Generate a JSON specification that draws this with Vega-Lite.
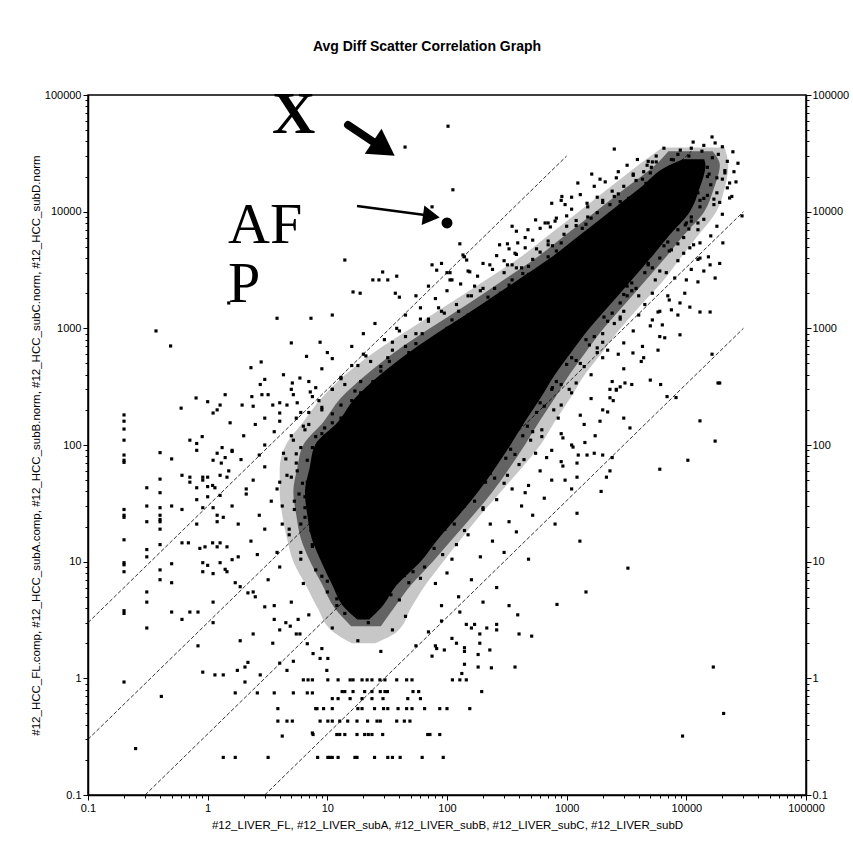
{
"$schema":"https://vega.github.io/schema/vega-lite/v6.json",
"width":718,"height":700,"autosize":"none",
"padding":{"left":88,"top":95,"right":47,"bottom":61},
"background":"white",
"title":{"text":"Avg Diff Scatter Correlation Graph","font":"Liberation Sans","fontSize":14,"fontWeight":"bold","color":"black","anchor":"middle","offset":31,"dx":-20},
"config":{"view":{"stroke":"black","strokeWidth":1.5},
"axis":{"labelFont":"Liberation Sans","labelFontSize":11,"labelColor":"#000000","titleFont":"Liberation Sans","titleFontSize":11.5,"titleFontWeight":"normal","titleColor":"#000000","tickColor":"#000000","domainColor":"#000000","domainWidth":1.5,"grid":false,"labelFlush":false,"labelOverlap":false,"labelBound":false,"labelPadding":2}},
"datasets":{
"lines":[{"g":"a","x":0.1,"y":3},{"g":"a","x":1000,"y":30000},{"g":"b","x":0.1,"y":0.3},{"g":"b","x":11000,"y":33000},{"g":"c","x":0.3,"y":0.1},{"g":"c","x":30000,"y":10000},{"g":"d","x":3,"y":0.1},{"g":"d","x":30000,"y":1000}],
"outer":[{"y":35500,"lo":6310,"hi":20900},{"y":25100,"lo":3980,"hi":22400},{"y":15850,"lo":2240,"hi":20900},{"y":10000,"lo":1260,"hi":17800},{"y":6310,"lo":708,"hi":12600},{"y":3980,"lo":398,"hi":8910},{"y":2510,"lo":200,"hi":6310},{"y":1585,"lo":100,"hi":4170},{"y":1000,"lo":50,"hi":2820},{"y":631,"lo":25,"hi":2000},{"y":398,"lo":14,"hi":1410},{"y":251,"lo":8.9,"hi":1070},{"y":158,"lo":6.3,"hi":794},{"y":100,"lo":4.5,"hi":603},{"y":63,"lo":4,"hi":417},{"y":39.8,"lo":4,"hi":282},{"y":25.1,"lo":4.2,"hi":190},{"y":15.8,"lo":4.6,"hi":132},{"y":10,"lo":5.2,"hi":93},{"y":6.3,"lo":6.6,"hi":66},{"y":4,"lo":8.3,"hi":50},{"y":2.5,"lo":11.2,"hi":38},{"y":2,"lo":16,"hi":25}],
"inner":[{"y":33000,"lo":7080,"hi":16600},{"y":25100,"lo":5500,"hi":19050},{"y":15850,"lo":3090,"hi":17000},{"y":10000,"lo":1740,"hi":14100},{"y":6310,"lo":977,"hi":9550},{"y":3980,"lo":550,"hi":6610},{"y":2510,"lo":282,"hi":4470},{"y":1585,"lo":145,"hi":3020},{"y":1000,"lo":72,"hi":2040},{"y":631,"lo":37,"hi":1450},{"y":398,"lo":21,"hi":1050},{"y":251,"lo":12.9,"hi":794},{"y":158,"lo":9.3,"hi":589},{"y":100,"lo":6.3,"hi":447},{"y":63,"lo":5.6,"hi":331},{"y":39.8,"lo":5.2,"hi":240},{"y":25.1,"lo":5.5,"hi":166},{"y":15.8,"lo":6,"hi":112},{"y":10,"lo":7.2,"hi":76},{"y":6.3,"lo":9.1,"hi":50},{"y":4,"lo":11.5,"hi":36},{"y":2.8,"lo":15.8,"hi":28}],
"core":[{"y":28200,"lo":9330,"hi":14100},{"y":25100,"lo":7240,"hi":14450},{"y":15850,"lo":4070,"hi":12900},{"y":10000,"lo":2290,"hi":10700},{"y":6310,"lo":1290,"hi":7240},{"y":3980,"lo":724,"hi":5010},{"y":2510,"lo":372,"hi":3390},{"y":1585,"lo":191,"hi":2290},{"y":1000,"lo":95.5,"hi":1550},{"y":631,"lo":49,"hi":1100},{"y":398,"lo":27.5,"hi":794},{"y":251,"lo":17,"hi":603},{"y":158,"lo":12.3,"hi":447},{"y":100,"lo":7.9,"hi":339},{"y":63,"lo":7.1,"hi":251},{"y":39.8,"lo":6.5,"hi":182},{"y":25.1,"lo":6.8,"hi":126},{"y":15.8,"lo":7.4,"hi":85},{"y":10,"lo":8.9,"hi":60},{"y":6.3,"lo":11,"hi":38},{"y":4,"lo":14,"hi":28},{"y":3.2,"lo":17.8,"hi":22.4}],
"notes":[{"t":"X","x":3.45,"y":47200},{"t":"AF","x":1.48,"y":5380},{"t":"P","x":1.48,"y":1680}],
"bigarrow":[{"x":14.9,"y":55300,"x2":25,"y2":38800}],
"bighead":[{"x":29.7,"y":34800}],
"smallarrow":[{"x":17.7,"y":11200,"x2":65.5,"y2":9360}],
"smallhead":[{"x":74,"y":9100}],
"afp":[{"x":100,"y":8000}],
"pts":[
{"x":102,"y":54000},{"x":112,"y":15400},{"x":2500,"y":34400},{"x":1620,"y":21000},{"x":1240,"y":17600},{"x":912,"y":13500},{"x":1100,"y":13300},{"x":750,"y":11800},{"x":970,"y":11500},{"x":1480,"y":11800},{"x":1800,"y":13300},{"x":820,"y":8800},{"x":700,"y":8000},{"x":350,"y":7500},{"x":275,"y":5200},{"x":390,"y":5400},{"x":128,"y":5300},{"x":140,"y":4100},{"x":106,"y":3000},{"x":155,"y":3050},{"x":228,"y":3500},{"x":320,"y":3500},{"x":370,"y":4400},{"x":475,"y":7000},{"x":520,"y":5700},{"x":660,"y":8000},{"x":730,"y":7400},{"x":5200,"y":26700},{"x":4700,"y":25000},{"x":7800,"y":27800},{"x":8900,"y":33700},{"x":11400,"y":39500},
{"x":16400,"y":43700},{"x":17400,"y":38800},{"x":24500,"y":32600},{"x":23000,"y":17600},{"x":23000,"y":13100},{"x":29200,"y":9200},{"x":20200,"y":5400},{"x":19000,"y":3600},{"x":15800,"y":3500},{"x":17400,"y":2700},{"x":12500,"y":2500},{"x":15300,"y":4100},{"x":13000,"y":4000},{"x":10700,"y":4900},{"x":9700,"y":2000},{"x":8850,"y":1650},{"x":7200,"y":1750},{"x":7500,"y":1440},{"x":10700,"y":1520},{"x":13000,"y":1380},{"x":15800,"y":1380},{"x":5800,"y":1380},{"x":5200,"y":1180},{"x":6300,"y":1070},{"x":8850,"y":880},{"x":6600,"y":830},{"x":5800,"y":650},{"x":4400,"y":560},{"x":5000,"y":360},{"x":6100,"y":330},{"x":3070,"y":340},{"x":2600,"y":295},{"x":2450,"y":240},{"x":6900,"y":260},{"x":8200,"y":255},{"x":19000,"y":340},{"x":16400,"y":600},{"x":3580,"y":615},{"x":5600,"y":26700},{"x":5100,"y":24000},{"x":4400,"y":22000},
{"x":18400,"y":340},{"x":13000,"y":161},{"x":17400,"y":108},{"x":10300,"y":74},{"x":6000,"y":62},{"x":2300,"y":300},{"x":2800,"y":315},{"x":2300,"y":254},{"x":2200,"y":192},{"x":1730,"y":120},{"x":1420,"y":105},{"x":1130,"y":96},{"x":930,"y":115},{"x":930,"y":66},{"x":970,"y":50},{"x":1220,"y":53},{"x":1220,"y":70},{"x":1480,"y":82},{"x":2000,"y":82},{"x":2400,"y":78},{"x":2300,"y":60},{"x":2150,"y":53},{"x":1940,"y":40},{"x":3380,"y":140},{"x":1220,"y":26},{"x":1290,"y":15},{"x":3250,"y":8.8},{"x":1450,"y":5.5},{"x":16800,"y":1.25},{"x":20500,"y":0.5},{"x":9300,"y":0.32},
{"x":44.6,"y":35800},{"x":75,"y":11000},{"x":14,"y":3850},{"x":29,"y":3040},{"x":27,"y":2600},{"x":24,"y":2600},{"x":32,"y":2600},{"x":38,"y":2800},{"x":16.4,"y":2050},{"x":18.8,"y":2000},{"x":37,"y":2000},{"x":40,"y":1850},{"x":136,"y":4250},{"x":146,"y":3850},{"x":75,"y":3500},{"x":90,"y":3600},{"x":82,"y":3150},{"x":100,"y":3000},{"x":106,"y":2600},
{"x":0.6,"y":207},{"x":0.61,"y":55},{"x":0.61,"y":28},{"x":0.61,"y":14.5},{"x":0.71,"y":110},{"x":0.81,"y":103},{"x":0.81,"y":90},{"x":0.71,"y":53},{"x":0.71,"y":48},{"x":0.69,"y":14.5},{"x":0.8,"y":253},{"x":0.9,"y":118},{"x":0.81,"y":43},{"x":0.81,"y":34},{"x":0.81,"y":21},{"x":0.91,"y":53},{"x":0.91,"y":50},{"x":1.0,"y":235},{"x":1.0,"y":53},{"x":1.0,"y":44},{"x":1.11,"y":188},{"x":1.2,"y":200},{"x":1.27,"y":220},{"x":1.4,"y":270},{"x":1.54,"y":155},{"x":1.11,"y":74},{"x":1.2,"y":85},{"x":1.32,"y":95},{"x":1.4,"y":78},{"x":1.6,"y":88},{"x":1.27,"y":55},{"x":1.45,"y":53},{"x":1.15,"y":43},{"x":1.0,"y":36},{"x":0.91,"y":29},{"x":1.11,"y":29},{"x":1.27,"y":37},{"x":1.2,"y":25},{"x":1.35,"y":24},{"x":0.86,"y":13},{"x":0.95,"y":13.4},{"x":1.1,"y":14.5},{"x":1.2,"y":13.4},{"x":1.27,"y":14.5},{"x":1.45,"y":13.4},{"x":0.91,"y":8.2},{"x":1.0,"y":9.3},{"x":1.4,"y":8.6},{"x":1.6,"y":10.4},{"x":1.94,"y":220},{"x":2.34,"y":260},{"x":2.4,"y":215},{"x":2.84,"y":270},{"x":3.2,"y":270},{"x":2.75,"y":330},{"x":3.5,"y":220},{"x":4.0,"y":188},{"x":4.6,"y":220},{"x":5.1,"y":340},{"x":5.2,"y":270},{"x":5.6,"y":230},{"x":7.2,"y":285},
{"x":0.2,"y":181},{"x":0.2,"y":160},{"x":0.2,"y":137},{"x":0.2,"y":110},{"x":0.2,"y":82},{"x":0.2,"y":74},{"x":0.2,"y":71},{"x":0.2,"y":28},{"x":0.2,"y":25},{"x":0.2,"y":24},{"x":0.2,"y":15.4},{"x":0.2,"y":9.8},{"x":0.2,"y":9.4},{"x":0.2,"y":8.2},{"x":0.2,"y":3.8},{"x":0.2,"y":3.6},{"x":0.2,"y":0.93},
{"x":0.31,"y":43},{"x":0.31,"y":30},{"x":0.31,"y":22},{"x":0.31,"y":12.7},{"x":0.31,"y":11},{"x":0.31,"y":5.5},{"x":0.31,"y":4.5},{"x":0.31,"y":2.7},
{"x":0.4,"y":86},{"x":0.4,"y":51},{"x":0.4,"y":39},{"x":0.4,"y":29},{"x":0.4,"y":25},{"x":0.4,"y":23},{"x":0.4,"y":22},{"x":0.4,"y":19},{"x":0.4,"y":14},{"x":0.4,"y":8.5},{"x":0.4,"y":7},{"x":0.41,"y":0.7},
{"x":0.5,"y":76},{"x":0.5,"y":30},{"x":0.5,"y":9.6},{"x":0.5,"y":6.6},{"x":0.5,"y":3.7},
{"x":0.25,"y":0.25},{"x":0.61,"y":3.2},{"x":0.71,"y":3.7},{"x":0.83,"y":3.7},{"x":0.83,"y":1.9},{"x":0.91,"y":9.8},{"x":0.91,"y":1.13},{"x":1.11,"y":4.5},{"x":1.11,"y":3.0},{"x":1.15,"y":1.07},{"x":1.35,"y":1.07},{"x":1.35,"y":0.21},{"x":1.7,"y":0.21},{"x":1.7,"y":0.75},{"x":1.77,"y":1.17},{"x":1.87,"y":2.1},{"x":2.05,"y":1.25},{"x":2.05,"y":0.93},{"x":2.17,"y":1.37},{"x":2.4,"y":2.4},{"x":2.6,"y":0.75},{"x":2.75,"y":1.07},{"x":3.2,"y":0.21},{"x":3.6,"y":0.75},{"x":3.86,"y":0.55},{"x":3.86,"y":0.43},{"x":4.6,"y":0.43},{"x":5.1,"y":0.43},{"x":4.2,"y":0.32},{"x":5.2,"y":0.75},{"x":6.3,"y":0.97},{"x":6.9,"y":0.97},{"x":7.5,"y":0.97},{"x":6.8,"y":0.75},{"x":7.5,"y":0.75},{"x":8.2,"y":0.55},{"x":8.7,"y":0.43},{"x":10.1,"y":0.43},{"x":7.5,"y":0.34},{"x":10.1,"y":0.21},{"x":4.0,"y":1.35},{"x":4.6,"y":1.17},{"x":5.2,"y":1.4},{"x":1.27,"y":9.8},{"x":1.11,"y":7.9},{"x":1.45,"y":8.2},{"x":1.7,"y":6.6},{"x":1.87,"y":6.1},{"x":2.17,"y":5.4},{"x":2.4,"y":5.5},{"x":3.0,"y":4.1},{"x":3.6,"y":3.2},{"x":4.0,"y":2.6},{"x":4.9,"y":2.8},{"x":5.7,"y":3.2},{"x":5.9,"y":2.4},{"x":6.8,"y":1.98},{"x":7.6,"y":1.63},{"x":8.7,"y":1.48},{"x":9.9,"y":1.17},{"x":10.1,"y":1.48},
{"x":10.1,"y":0.97},{"x":12.3,"y":0.97},{"x":15.5,"y":0.97},{"x":16.4,"y":0.97},{"x":19.5,"y":0.97},{"x":21.5,"y":0.97},{"x":23.6,"y":0.97},{"x":27.5,"y":0.97},{"x":30.3,"y":0.97},{"x":38,"y":0.97},{"x":46,"y":0.97},{"x":51,"y":0.97},{"x":111,"y":0.97},{"x":128,"y":0.97},{"x":145,"y":0.97},
{"x":13.3,"y":0.77},{"x":14,"y":0.77},{"x":16.4,"y":0.77},{"x":20.5,"y":0.77},{"x":23.6,"y":0.77},{"x":27.7,"y":0.77},{"x":30.3,"y":0.77},{"x":31.8,"y":0.77},{"x":52,"y":0.77},{"x":58,"y":0.77},
{"x":11,"y":0.67},{"x":12.3,"y":0.67},{"x":15.5,"y":0.67},{"x":19.5,"y":0.67},{"x":23.6,"y":0.67},{"x":29.2,"y":0.67},{"x":47,"y":0.67},{"x":60,"y":0.67},
{"x":8,"y":0.55},{"x":9.3,"y":0.55},{"x":11,"y":0.55},{"x":18,"y":0.55},{"x":19.5,"y":0.55},{"x":24.8,"y":0.55},{"x":29.5,"y":0.55},{"x":32,"y":0.55},{"x":39,"y":0.55},{"x":46,"y":0.55},{"x":51,"y":0.55},{"x":65,"y":0.55},{"x":87,"y":0.55},{"x":100,"y":0.55},{"x":155,"y":0.55},
{"x":11,"y":0.43},{"x":12.7,"y":0.43},{"x":14.8,"y":0.43},{"x":17.7,"y":0.43},{"x":21.7,"y":0.43},{"x":26,"y":0.43},{"x":27.7,"y":0.43},{"x":38,"y":0.43},{"x":44,"y":0.43},{"x":49,"y":0.43},
{"x":7.6,"y":0.33},{"x":12,"y":0.33},{"x":12.7,"y":0.33},{"x":14,"y":0.33},{"x":17.7,"y":0.33},{"x":20.5,"y":0.33},{"x":22,"y":0.33},{"x":23.6,"y":0.33},{"x":29,"y":0.33},{"x":69,"y":0.33},{"x":87,"y":0.33},
{"x":8.3,"y":0.21},{"x":10.5,"y":0.21},{"x":11,"y":0.21},{"x":12.3,"y":0.21},{"x":17,"y":0.21},{"x":17.7,"y":0.21},{"x":24.8,"y":0.21},{"x":32,"y":0.21},{"x":35,"y":0.21},{"x":40.6,"y":0.21},{"x":62,"y":0.21},{"x":93,"y":0.21},
{"x":128,"y":3.7},{"x":145,"y":2.9},{"x":160,"y":2.7},{"x":188,"y":2.4},{"x":215,"y":2.7},{"x":260,"y":2.9},{"x":260,"y":2.6},{"x":390,"y":3.5},{"x":400,"y":2.4},{"x":510,"y":2.3},{"x":830,"y":4.3},{"x":120,"y":2.0},{"x":140,"y":1.83},{"x":188,"y":2.0},{"x":228,"y":1.75},{"x":95,"y":1.75},{"x":80,"y":1.9},{"x":82,"y":1.8},{"x":182,"y":1.6},{"x":182,"y":1.25},{"x":235,"y":1.23},{"x":140,"y":1.32},{"x":133,"y":1.1},{"x":370,"y":1.25},{"x":195,"y":0.77},{"x":75,"y":1.55},{"x":72,"y":0.33},
{"x":0.49,"y":706},{"x":0.37,"y":950},{"x":1.5,"y":1650},{"x":2.8,"y":515},{"x":3.8,"y":1220},{"x":5.0,"y":750},{"x":2.3,"y":460},{"x":7.3,"y":1220},{"x":11,"y":1300},{"x":8.7,"y":760},{"x":6.7,"y":575},{"x":4.3,"y":400},{"x":5.9,"y":375},{"x":3,"y":365},
{"x":6500,"y":35000},{"x":7500,"y":28000},{"x":9000,"y":24000},{"x":10500,"y":30000},{"x":12000,"y":26000},{"x":13500,"y":33000},{"x":15000,"y":24000},{"x":16500,"y":29000},{"x":18500,"y":31000},{"x":20000,"y":36000},{"x":22000,"y":27000},{"x":14000,"y":37000},{"x":11000,"y":35000},{"x":8500,"y":31000},{"x":5600,"y":30000},{"x":4800,"y":27000},{"x":3900,"y":28000},{"x":3200,"y":25000},{"x":3600,"y":21000},{"x":2700,"y":22000},{"x":25000,"y":22000},{"x":27000,"y":26000},
{"x":900,"y":12500},{"x":1300,"y":14000},{"x":1700,"y":16500},{"x":2100,"y":18000},{"x":2600,"y":19500},{"x":1100,"y":10500},{"x":1500,"y":11000},{"x":2000,"y":12500},{"x":2400,"y":15000},{"x":3000,"y":16500},{"x":3300,"y":13000},{"x":3800,"y":18500},{"x":1900,"y":19000},{"x":2800,"y":11200},{"x":4200,"y":14500},{"x":12000,"y":15000},{"x":14000,"y":13000},{"x":16000,"y":17000},{"x":18000,"y":14500},{"x":20000,"y":19000},{"x":22000,"y":16000},{"x":24000,"y":13500},{"x":13000,"y":11000},{"x":17000,"y":11500},{"x":11500,"y":19500},{"x":19000,"y":12000},{"x":26000,"y":18000},{"x":15000,"y":20000},{"x":21000,"y":21500},
{"x":320,"y":5300},{"x":450,"y":6000},{"x":600,"y":7200},{"x":800,"y":8300},{"x":1000,"y":9200},{"x":700,"y":5600},{"x":950,"y":6400},{"x":1200,"y":7600},{"x":1500,"y":9000},{"x":1800,"y":9800},{"x":550,"y":8500},{"x":380,"y":6800},{"x":1300,"y":5200},{"x":1650,"y":6300},{"x":2000,"y":7800},{"x":2300,"y":9500},{"x":9000,"y":9800},{"x":10000,"y":8000},{"x":11000,"y":9000},{"x":12500,"y":7000},{"x":14000,"y":8600},{"x":16000,"y":6200},{"x":18000,"y":7500},{"x":9500,"y":6000},{"x":13000,"y":5400},{"x":20000,"y":9500},{"x":11500,"y":5200},{"x":8500,"y":7000},
{"x":110,"y":2600},{"x":150,"y":3100},{"x":200,"y":3600},{"x":260,"y":4200},{"x":330,"y":4800},{"x":180,"y":2800},{"x":240,"y":3200},{"x":300,"y":3800},{"x":380,"y":4300},{"x":450,"y":4900},{"x":420,"y":3300},{"x":520,"y":3900},{"x":600,"y":4500},{"x":350,"y":2600},{"x":480,"y":2900},{"x":650,"y":3400},{"x":700,"y":4100},{"x":5200,"y":4800},{"x":6000,"y":4000},{"x":7200,"y":4600},{"x":8500,"y":3800},{"x":9500,"y":4400},{"x":11000,"y":3200},{"x":6800,"y":3000},{"x":8000,"y":2700},{"x":12500,"y":3900},{"x":5500,"y":2600},{"x":14000,"y":3100},{"x":10000,"y":2600},{"x":4800,"y":3600},
{"x":45,"y":1300},{"x":60,"y":1500},{"x":80,"y":1800},{"x":100,"y":2100},{"x":130,"y":2400},{"x":55,"y":1900},{"x":70,"y":2300},{"x":90,"y":1400},{"x":120,"y":1600},{"x":160,"y":1900},{"x":200,"y":2200},{"x":150,"y":1300},{"x":190,"y":1500},{"x":240,"y":1750},{"x":280,"y":2000},{"x":330,"y":2350},{"x":230,"y":1300},{"x":2600,"y":2300},{"x":3200,"y":1900},{"x":3800,"y":2200},{"x":4500,"y":1600},{"x":5200,"y":2000},{"x":6000,"y":1400},{"x":3000,"y":1400},{"x":7000,"y":1900},{"x":4000,"y":1300},{"x":8500,"y":1300},{"x":3500,"y":2450},{"x":2800,"y":1650},
{"x":16,"y":700},{"x":20,"y":900},{"x":25,"y":1100},{"x":30,"y":800},{"x":38,"y":1000},{"x":45,"y":700},{"x":55,"y":900},{"x":70,"y":1150},{"x":85,"y":800},{"x":100,"y":1000},{"x":120,"y":680},{"x":140,"y":900},{"x":170,"y":1100},{"x":35,"y":650},{"x":60,"y":1200},{"x":1600,"y":1200},{"x":2000,"y":900},{"x":2500,"y":1100},{"x":3000,"y":750},{"x":3600,"y":950},{"x":4300,"y":700},{"x":5000,"y":1050},{"x":2200,"y":650},{"x":6000,"y":850},{"x":2800,"y":1250},{"x":1800,"y":680},
{"x":7,"y":350},{"x":9,"y":450},{"x":11,"y":550},{"x":13,"y":380},{"x":16,"y":480},{"x":20,"y":600},{"x":24,"y":350},{"x":28,"y":430},{"x":33,"y":520},{"x":40,"y":400},{"x":48,"y":620},{"x":58,"y":330},{"x":70,"y":480},{"x":85,"y":560},{"x":10,"y":620},{"x":1000,"y":600},{"x":1300,"y":500},{"x":1600,"y":400},{"x":2000,"y":560},{"x":2400,"y":350},{"x":3000,"y":450},{"x":3500,"y":330},{"x":4200,"y":520},{"x":1200,"y":340},{"x":1800,"y":620},{"x":2700,"y":600},
{"x":3,"y":170},{"x":4,"y":230},{"x":5,"y":300},{"x":6,"y":190},{"x":7.5,"y":260},{"x":9,"y":200},{"x":11,"y":300},{"x":13,"y":170},{"x":16,"y":240},{"x":19,"y":280},{"x":23,"y":190},{"x":28,"y":230},{"x":34,"y":300},{"x":42,"y":180},{"x":5.5,"y":170},{"x":8,"y":310},{"x":750,"y":300},{"x":900,"y":220},{"x":1100,"y":280},{"x":1300,"y":180},{"x":1600,"y":250},{"x":2000,"y":200},{"x":2600,"y":300},{"x":3000,"y":170},{"x":1900,"y":160},{"x":850,"y":170},
{"x":1.6,"y":90},{"x":2,"y":120},{"x":2.5,"y":150},{"x":3,"y":100},{"x":3.6,"y":130},{"x":4.3,"y":85},{"x":5.2,"y":110},{"x":6.3,"y":145},{"x":7.5,"y":95},{"x":9,"y":125},{"x":11,"y":155},{"x":2.7,"y":82},{"x":4,"y":160},{"x":8.5,"y":82},{"x":420,"y":150},{"x":500,"y":110},{"x":620,"y":135},{"x":750,"y":90},{"x":900,"y":125},{"x":1100,"y":100},{"x":1400,"y":150},{"x":1700,"y":85},{"x":550,"y":85},{"x":1250,"y":82},
{"x":1.1,"y":45},{"x":1.5,"y":60},{"x":1.9,"y":75},{"x":2.4,"y":50},{"x":3,"y":65},{"x":3.8,"y":42},{"x":4.6,"y":55},{"x":5.5,"y":70},{"x":6.8,"y":48},{"x":8,"y":62},{"x":2.1,"y":42},{"x":1.3,"y":70},{"x":260,"y":75},{"x":320,"y":55},{"x":400,"y":68},{"x":480,"y":45},{"x":600,"y":60},{"x":750,"y":50},{"x":900,"y":72},{"x":1100,"y":42},{"x":350,"y":42},{"x":680,"y":78},
{"x":1.2,"y":22},{"x":1.6,"y":30},{"x":2.1,"y":38},{"x":2.7,"y":25},{"x":3.4,"y":33},{"x":4.2,"y":21},{"x":5.3,"y":28},{"x":6.5,"y":36},{"x":8,"y":24},{"x":1.8,"y":21},{"x":160,"y":38},{"x":200,"y":28},{"x":260,"y":34},{"x":330,"y":22},{"x":420,"y":30},{"x":520,"y":25},{"x":650,"y":35},{"x":800,"y":21},{"x":230,"y":21},{"x":450,"y":39},
{"x":1.8,"y":11},{"x":2.3,"y":15},{"x":3,"y":19},{"x":3.8,"y":12},{"x":4.8,"y":17},{"x":6,"y":10.5},{"x":7.5,"y":14},{"x":9.5,"y":18},{"x":2.6,"y":11.5},{"x":95,"y":19},{"x":120,"y":14},{"x":150,"y":17},{"x":190,"y":11},{"x":240,"y":15},{"x":300,"y":12},{"x":380,"y":18},{"x":480,"y":10.5},{"x":110,"y":10.5},
{"x":2.5,"y":5},{"x":3.2,"y":7},{"x":4,"y":9},{"x":5,"y":4.5},{"x":6.3,"y":6.5},{"x":8,"y":8.5},{"x":10,"y":5.5},{"x":12,"y":4.2},{"x":3.6,"y":4.2},{"x":65,"y":9},{"x":80,"y":6.5},{"x":100,"y":8},{"x":125,"y":5},{"x":160,"y":7},{"x":200,"y":4.5},{"x":260,"y":6},{"x":330,"y":4.2},{"x":90,"y":4.2},
{"x":3.5,"y":2},{"x":4.5,"y":3},{"x":5.5,"y":2.4},{"x":7,"y":3.5},{"x":9,"y":1.8},{"x":11,"y":2.7},{"x":14,"y":3.6},{"x":18,"y":2.1},{"x":22,"y":3},{"x":28,"y":1.7},{"x":35,"y":2.6},{"x":45,"y":3.4},{"x":55,"y":1.9},{"x":70,"y":2.5},{"x":90,"y":3.1},{"x":110,"y":2.2},{"x":140,"y":1.7},{"x":170,"y":2.9},
{"x":3600,"y":20500},{"x":4300,"y":19000},{"x":5000,"y":21500},{"x":4600,"y":17500},{"x":15500,"y":21000},{"x":18000,"y":19500},{"x":21000,"y":22500},
{"x":2000,"y":12000},{"x":2500,"y":13500},{"x":2800,"y":12200},{"x":2300,"y":11500},{"x":2700,"y":14200},{"x":13000,"y":12500},{"x":15000,"y":13800},{"x":17000,"y":12800},{"x":12500,"y":14500},
{"x":1000,"y":7500},{"x":1200,"y":8400},{"x":1450,"y":7800},{"x":1600,"y":8800},{"x":1350,"y":7200},{"x":9800,"y":7700},{"x":11000,"y":8300},{"x":12500,"y":8000},{"x":10500,"y":7100},
{"x":560,"y":4800},{"x":700,"y":5200},{"x":820,"y":4600},{"x":900,"y":5400},{"x":760,"y":5100},{"x":6500,"y":5100},{"x":7500,"y":4700},{"x":8500,"y":5300},{"x":7000,"y":5500},
{"x":300,"y":3000},{"x":380,"y":3300},{"x":430,"y":2950},{"x":480,"y":3400},{"x":350,"y":3500},{"x":4500,"y":3000},{"x":5200,"y":3300},{"x":6000,"y":3100},{"x":4800,"y":3500},
{"x":150,"y":1900},{"x":190,"y":2100},{"x":220,"y":1850},{"x":250,"y":2200},{"x":170,"y":2300},{"x":3000,"y":1950},{"x":3500,"y":2100},{"x":4000,"y":1900},{"x":3200,"y":2300},
{"x":70,"y":1200},{"x":95,"y":1350},{"x":110,"y":1180},{"x":125,"y":1400},{"x":85,"y":1500},{"x":2050,"y":1250},{"x":2400,"y":1350},{"x":2800,"y":1200},{"x":2200,"y":1150},
{"x":35,"y":760},{"x":45,"y":850},{"x":55,"y":740},{"x":62,"y":900},{"x":40,"y":950},{"x":1450,"y":800},{"x":1700,"y":850},{"x":2000,"y":760},{"x":1550,"y":720},
{"x":18,"y":480},{"x":23,"y":520},{"x":28,"y":470},{"x":32,"y":560},{"x":21,"y":580},{"x":1000,"y":490},{"x":1200,"y":530},{"x":1400,"y":470},{"x":1100,"y":560},
{"x":11,"y":300},{"x":14,"y":330},{"x":17,"y":290},{"x":19,"y":350},{"x":13,"y":370},{"x":760,"y":310},{"x":900,"y":330},{"x":1050,"y":300},{"x":820,"y":350},
{"x":7,"y":190},{"x":9,"y":210},{"x":11,"y":185},{"x":13,"y":220},{"x":8.5,"y":240},{"x":560,"y":190},{"x":650,"y":215},{"x":780,"y":200},{"x":600,"y":230},
{"x":5,"y":120},{"x":6.5,"y":135},{"x":8,"y":118},{"x":9.5,"y":140},{"x":7,"y":150},{"x":430,"y":120},{"x":520,"y":130},{"x":620,"y":118},{"x":470,"y":145},
{"x":4.5,"y":76},{"x":5.5,"y":84},{"x":6.8,"y":74},{"x":8,"y":88},{"x":6,"y":95},{"x":310,"y":77},{"x":370,"y":83},{"x":440,"y":75},{"x":340,"y":92},
{"x":4,"y":48},{"x":5,"y":53},{"x":6.2,"y":47},{"x":7.3,"y":56},{"x":5.6,"y":60},{"x":210,"y":48},{"x":250,"y":52},{"x":300,"y":47},{"x":230,"y":57},
{"x":4.2,"y":30},{"x":5.3,"y":33},{"x":6.5,"y":29},{"x":7.5,"y":35},{"x":5.8,"y":38},{"x":140,"y":30},{"x":170,"y":33},{"x":200,"y":29},{"x":155,"y":36},
{"x":4.8,"y":19},{"x":6,"y":21},{"x":7.3,"y":18.5},{"x":8.3,"y":22},{"x":6.5,"y":24},{"x":96,"y":19},{"x":115,"y":21},{"x":140,"y":18.5},{"x":105,"y":23},
{"x":6,"y":12},{"x":7.5,"y":13.5},{"x":9,"y":11.8},{"x":10,"y":14.2},{"x":8,"y":15},{"x":65,"y":12},{"x":78,"y":13},{"x":92,"y":11.5},{"x":70,"y":14.5},
{"x":9,"y":7.5},{"x":11,"y":8.4},{"x":12.5,"y":7.3},{"x":14,"y":8.8},{"x":10,"y":6.8},{"x":44,"y":7.6},{"x":52,"y":8.2},{"x":60,"y":7.2},{"x":48,"y":6.6},
{"x":12,"y":4.8},{"x":15,"y":5.3},{"x":18,"y":4.6},{"x":22,"y":5.5},{"x":28,"y":4.9},{"x":34,"y":5.2},{"x":40,"y":4.7},{"x":26,"y":5.8},{"x":19,"y":6}
]},
"encoding":{
"x":{"field":"x","type":"quantitative","scale":{"type":"log","domain":[0.1,100000],"nice":false},
"axis":{"orient":"bottom","title":"#12_LIVER_FL, #12_LIVER_subA, #12_LIVER_subB, #12_LIVER_subC, #12_LIVER_subD","titlePadding":6,"format":"~r","labelColor":"#000000","values":[0.1,0.2,0.3,0.4,0.5,0.6,0.7,0.8,0.9,1,2,3,4,5,6,7,8,9,10,20,30,40,50,60,70,80,90,100,200,300,400,500,600,700,800,900,1000,2000,3000,4000,5000,6000,7000,8000,9000,10000,20000,30000,40000,50000,60000,70000,80000,90000,100000],
"labelExpr":"indexof([0.1,1,10,100,1000,10000,100000], datum.value) >= 0 ? datum.label : ''",
"tickSize":{"condition":{"test":"indexof([0.1,1,10,100,1000,10000,100000], datum.value) >= 0","value":5},"value":3}}},
"y":{"field":"y","type":"quantitative","scale":{"type":"log","domain":[0.1,100000],"nice":false},"axis":null}
},
"layer":[
{"data":{"name":"lines"},"mark":{"type":"line","color":"black","strokeWidth":0.8,"strokeDash":[4,2],"clip":true},
"encoding":{"detail":{"field":"g"},
"y":{"field":"y","type":"quantitative","scale":{"type":"log","domain":[0.1,100000],"nice":false},
"axis":{"orient":"right","title":null,"format":"~r","labelColor":"#000000","labelPadding":1,"values":[0.1,0.2,0.3,0.4,0.5,0.6,0.7,0.8,0.9,1,2,3,4,5,6,7,8,9,10,20,30,40,50,60,70,80,90,100,200,300,400,500,600,700,800,900,1000,2000,3000,4000,5000,6000,7000,8000,9000,10000,20000,30000,40000,50000,60000,70000,80000,90000,100000],
"labelExpr":"indexof([0.1,1,10,100,1000,10000,100000], datum.value) >= 0 ? datum.label : ''",
"tickSize":{"condition":{"test":"indexof([0.1,1,10,100,1000,10000,100000], datum.value) >= 0","value":5},"value":3}}}}},
{"data":{"name":"outer"},"mark":{"type":"area","orient":"horizontal","interpolate":"monotone","color":"black","opacity":0.22},
"encoding":{"x":{"field":"lo","type":"quantitative"},"x2":{"field":"hi"}}},
{"data":{"name":"inner"},"mark":{"type":"area","orient":"horizontal","interpolate":"monotone","color":"black","opacity":0.5},
"encoding":{"x":{"field":"lo","type":"quantitative"},"x2":{"field":"hi"}}},
{"data":{"name":"core"},"mark":{"type":"area","orient":"horizontal","interpolate":"monotone","color":"black","opacity":1},
"encoding":{"x":{"field":"lo","type":"quantitative"},"x2":{"field":"hi"}}},
{"data":{"name":"pts"},"mark":{"type":"point","shape":"square","filled":true,"color":"black","size":10,"opacity":1},
"encoding":{
"y":{"field":"y","type":"quantitative","scale":{"type":"log","domain":[0.1,100000],"nice":false},
"axis":{"orient":"left","title":"#12_HCC_FL.comp, #12_HCC_subA.comp, #12_HCC_subB.norm, #12_HCC_subC.norm, #12_HCC_subD.norm","titlePadding":3,"format":"~r","labelColor":"#000000","values":[0.1,0.2,0.3,0.4,0.5,0.6,0.7,0.8,0.9,1,2,3,4,5,6,7,8,9,10,20,30,40,50,60,70,80,90,100,200,300,400,500,600,700,800,900,1000,2000,3000,4000,5000,6000,7000,8000,9000,10000,20000,30000,40000,50000,60000,70000,80000,90000,100000],
"labelExpr":"indexof([0.1,1,10,100,1000,10000,100000], datum.value) >= 0 ? datum.label : ''",
"tickSize":{"condition":{"test":"indexof([0.1,1,10,100,1000,10000,100000], datum.value) >= 0","value":5},"value":3}}}}},
{"data":{"name":"afp"},"mark":{"type":"point","shape":"circle","filled":true,"color":"black","size":120,"opacity":1}},
{"data":{"name":"bigarrow"},"mark":{"type":"rule","color":"black","strokeWidth":8,"strokeCap":"round"},"encoding":{"x2":{"field":"x2"},"y2":{"field":"y2"}}},
{"data":{"name":"bighead"},"mark":{"type":"point","shape":"triangle-right","filled":true,"color":"black","size":900,"angle":34,"opacity":1}},
{"data":{"name":"smallarrow"},"mark":{"type":"rule","color":"black","strokeWidth":2.5},"encoding":{"x2":{"field":"x2"},"y2":{"field":"y2"}}},
{"data":{"name":"smallhead"},"mark":{"type":"point","shape":"triangle-right","filled":true,"color":"black","size":380,"angle":8,"opacity":1}},
{"data":{"name":"notes"},"transform":[{"filter":"datum.t == 'X'"}],"mark":{"type":"text","font":"Liberation Serif","fontSize":60,"fontWeight":"bold","align":"left","baseline":"alphabetic","color":"black"},"encoding":{"text":{"field":"t"}}},
{"data":{"name":"notes"},"transform":[{"filter":"datum.t != 'X'"}],"mark":{"type":"text","font":"Liberation Serif","fontSize":58,"align":"left","baseline":"alphabetic","color":"black"},"encoding":{"text":{"field":"t"}}}
],
"resolve":{"axis":{"y":"independent"}}
}
